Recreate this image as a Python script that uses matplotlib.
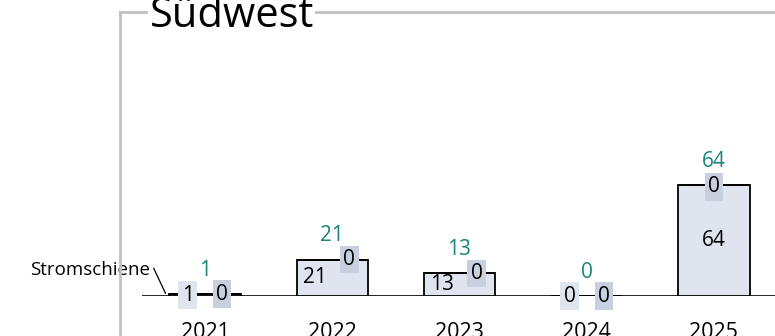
import matplotlib.pyplot as plt
from matplotlib.lines import Line2D

plt.rcParams['font.family'] = ['Open Sans', 'DejaVu Sans']

years = ['2021', '2022', '2023', '2024', '2025']
stromschiene = [1, 21, 13, 0, 64]
other = [0, 0, 0, 0, 0]
totals = [a + b for a, b in zip(stromschiene, other)]

light = '#dfe4ef'
dark = '#c8d0e0'
teal = '#1a8477'

W, H = 775, 336
fig = plt.figure(figsize=(W / 100, H / 100), dpi=100)
ax = fig.add_axes([142 / W, 40 / H, 1 - 142 / W, 1 - 40 / H])

x = list(range(len(years)))
ax.bar(x, stromschiene, width=0.56, color=light, edgecolor='black', linewidth=1.3, zorder=2)
ax.bar(x, other, width=0.56, bottom=stromschiene, color=dark, edgecolor='black', linewidth=1.3, zorder=2)
ax.axhline(0, color='black', lw=1.2, zorder=1)

ax.set_xlim(-0.495, 4.48)
ax.set_ylim(0, 296 / 1.734)

fs = 15
for i in x:
    s, o, t = stromschiene[i], other[i], totals[i]
    short = t < 30
    dx = 0.135 if short else 0
    # first segment label (box only shows when the segment is too thin)
    box = dict(boxstyle='square,pad=0.16', fc=light, ec='none') if s < 5 else None
    ax.text(i - dx, s / 2, str(s), ha='center', va='center', fontsize=fs, zorder=4, bbox=box)
    # second segment label
    ax.text(i + dx, s + o / 2 + (0 if short else -1), str(o), ha='center', va='center',
            fontsize=fs, zorder=4,
            bbox=dict(boxstyle='square,pad=0.16', fc=dark, ec='none'))
    # total
    ax.annotate(str(t), (i, t), xytext=(0, 17), textcoords='offset points',
                ha='center', va='center', fontsize=fs, color=teal)

ax.set_xticks(x, years, fontsize=15.5)
ax.tick_params(axis='x', length=0, pad=18.5)
ax.set_yticks([])
for sp in ax.spines.values():
    sp.set_visible(False)

ax.annotate('Stromschiene', xy=(-0.31, 1.5), xytext=(-0.43, 15),
            ha='right', va='center', fontsize=13.5,
            arrowprops=dict(arrowstyle='-', color='black', lw=0.9,
                            relpos=(1.0, 1.0), shrinkA=1, shrinkB=0))

# grey frame with title
grey = '#c0c0c0'
fig.add_artist(Line2D([120 / W, 120 / W], [0, 1 - 12 / H], color=grey, lw=2))
fig.add_artist(Line2D([120 / W, 146 / W], [1 - 12 / H, 1 - 12 / H], color=grey, lw=2))
fig.add_artist(Line2D([316 / W, 1], [1 - 12 / H, 1 - 12 / H], color=grey, lw=2))
fig.text(150 / W, 1 - 27 / H, 'Südwest', fontsize=30, ha='left', va='baseline')

fig.savefig('out.png', dpi=100)
